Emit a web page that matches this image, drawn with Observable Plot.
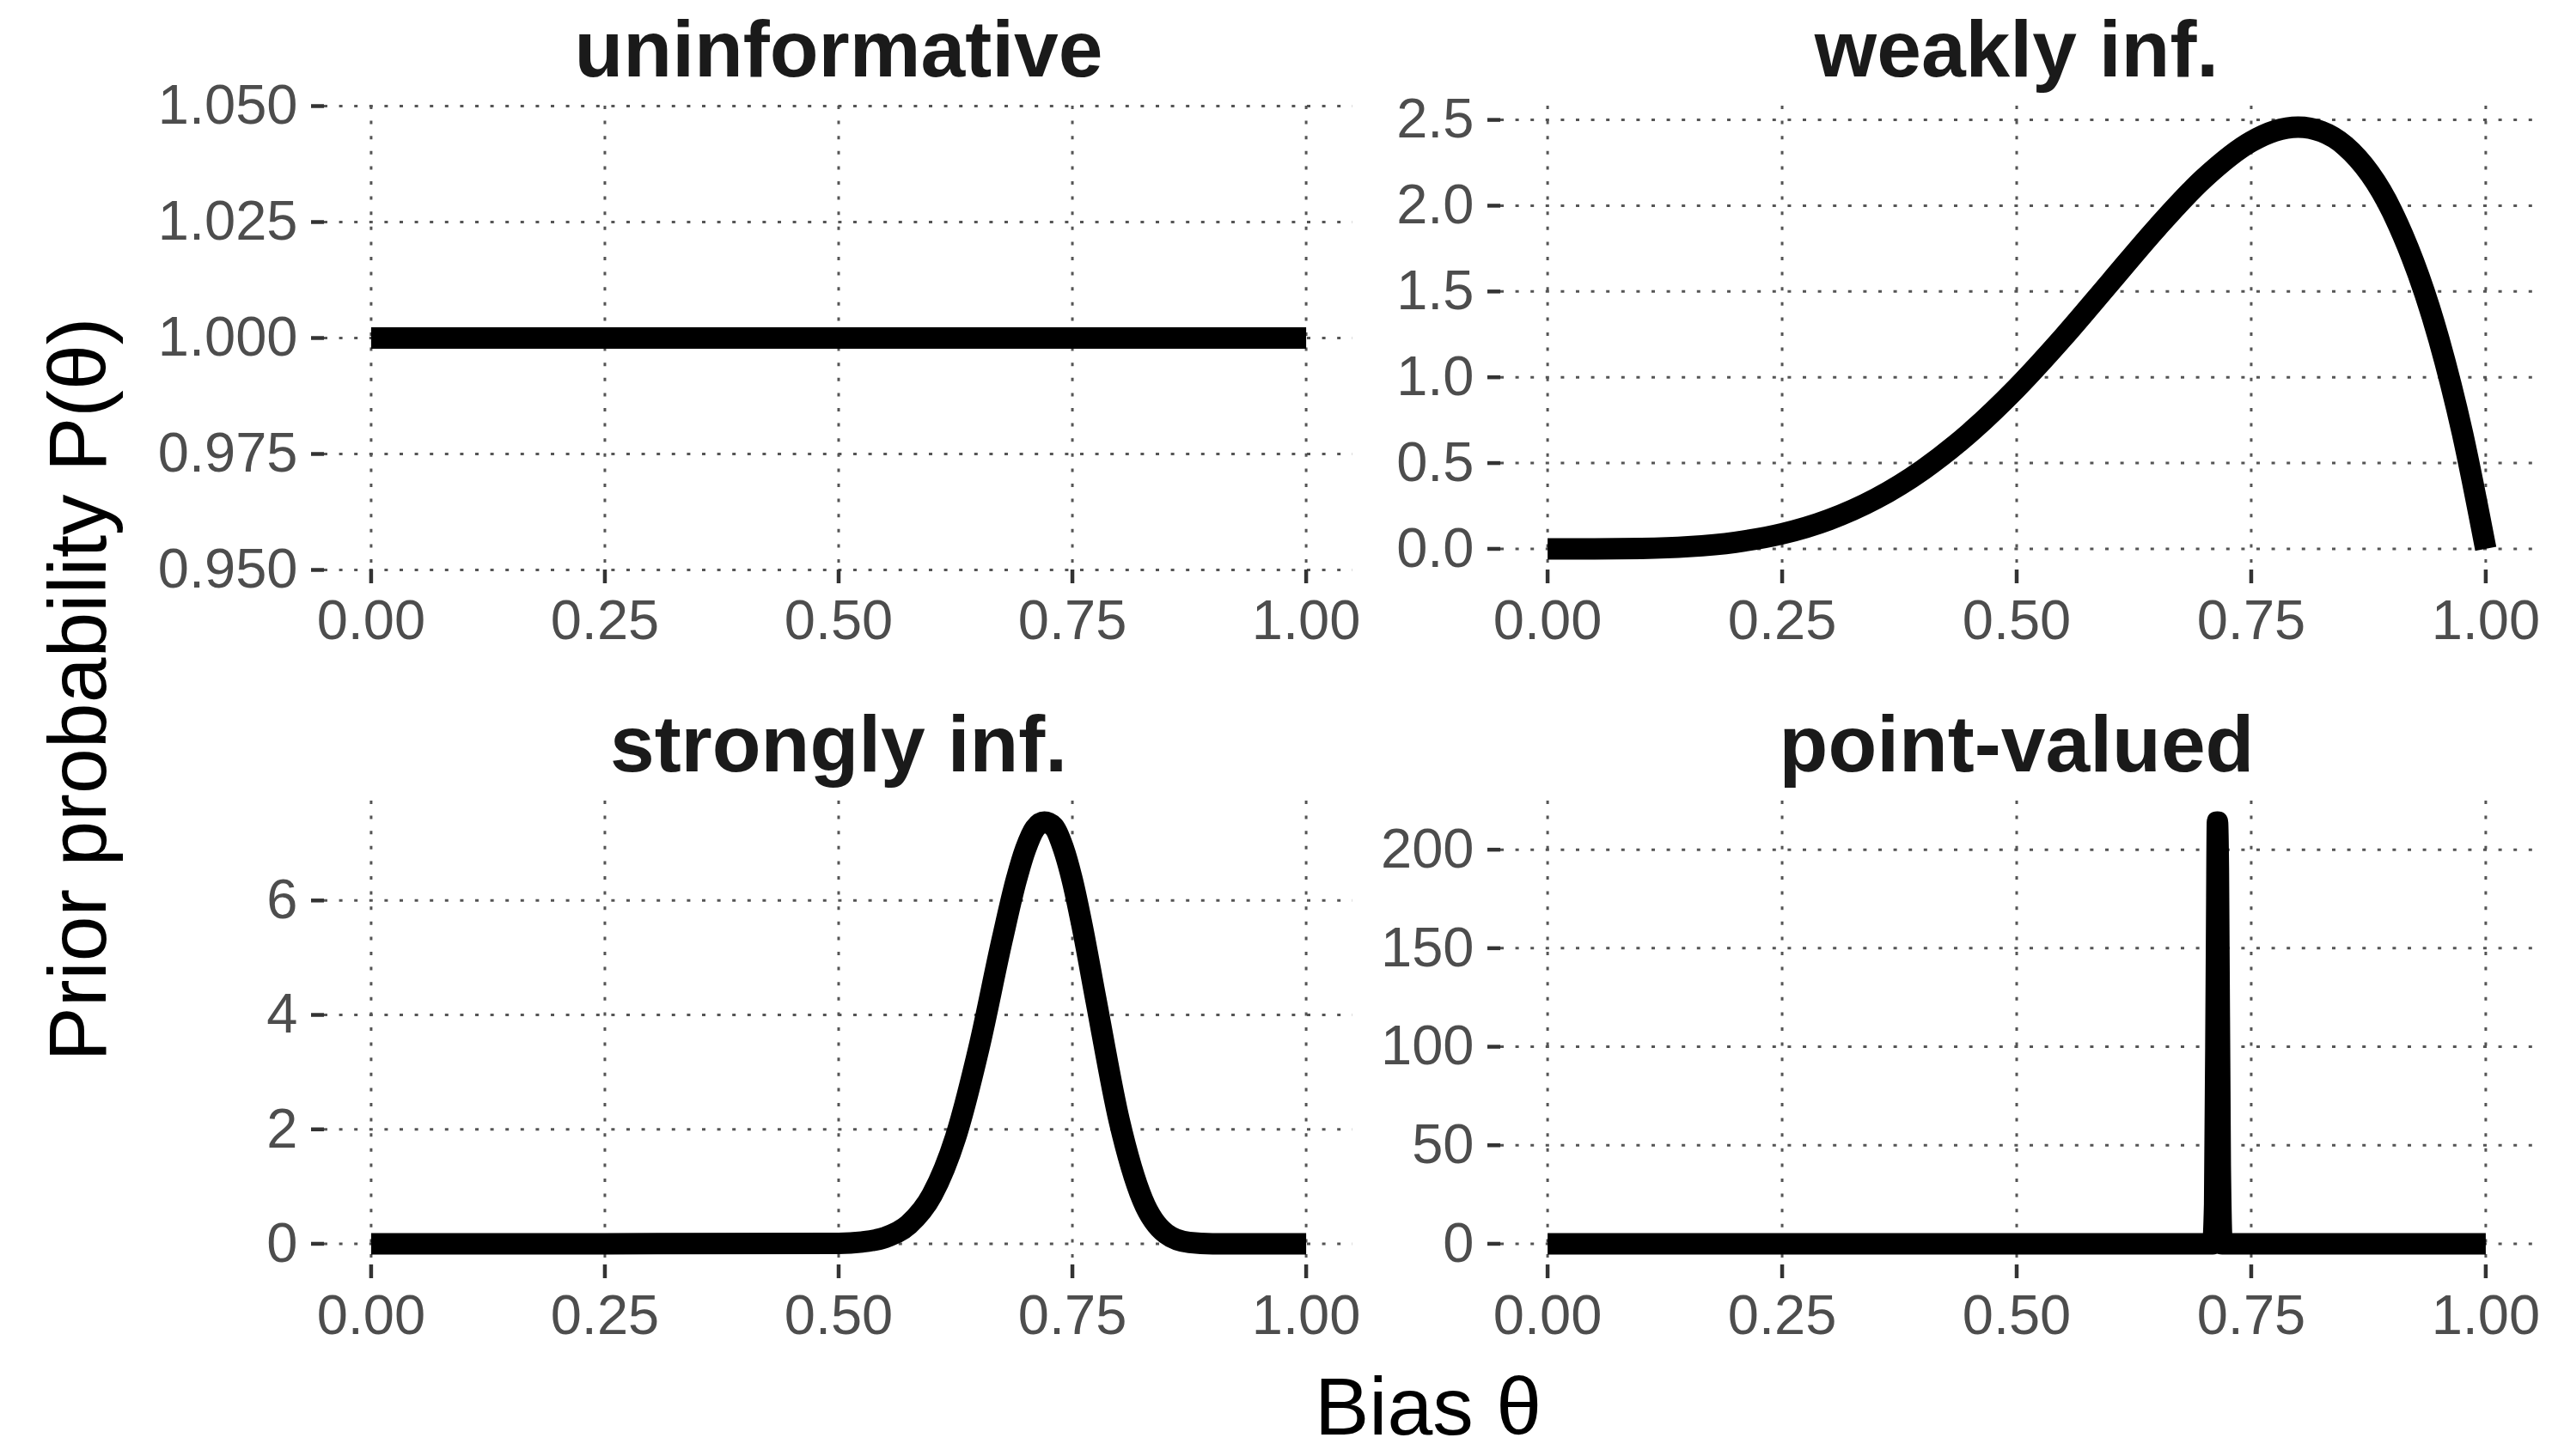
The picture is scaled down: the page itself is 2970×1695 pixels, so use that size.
<!DOCTYPE html>
<html>
<head>
<meta charset="utf-8">
<script src="https://cdn.jsdelivr.net/npm/d3@7"></script>
<script src="https://cdn.jsdelivr.net/npm/@observablehq/plot@0.6"></script>
<style>
  html, body { margin: 0; padding: 0; background: #ffffff; overflow: hidden; }
  #page { position: relative; width: 2970px; height: 1695px; background: #ffffff; font-family: "Liberation Sans", Arial, sans-serif; }
  .panel { position: absolute; }
  .panel svg { max-width: none !important; background: transparent !important; overflow: visible; }
  .axis-title { position: absolute; font-size: 95px; color: #000; text-align: center; white-space: nowrap; }
</style>
</head>
<body>
<div id="page"></div>
<script>
// ---------- data ----------
const xTicks = [0, 0.25, 0.5, 0.75, 1];
const panelTitles = ["uninformative", "weakly inf.", "strongly inf.", "point-valued"];
const xTitle = "Bias θ";
const yTitle = "Prior probability P(θ)";

const uninfTheta   = [0, 0.25, 0.5, 0.75, 1];
const uninfDensity = [1, 1, 1, 1, 1];
const uninfTicks   = [0.95, 0.975, 1, 1.025, 1.05];

const weakTheta   = [0, 0.05, 0.1, 0.15, 0.2, 0.25, 0.3, 0.35, 0.4, 0.45, 0.5, 0.55, 0.6, 0.65, 0.7, 0.75, 0.775, 0.8, 0.825, 0.85, 0.9, 0.95, 0.975, 1];
const weakDensity = [0, 0.0002, 0.0027, 0.0129, 0.0384, 0.0879, 0.1701, 0.2926, 0.4608, 0.6766, 0.9375, 1.2352, 1.5552, 1.8743, 2.1609, 2.373, 2.435, 2.4576, 2.432, 2.349, 1.968, 1.2218, 0.678, 0];
const weakTicks   = [0, 0.5, 1, 1.5, 2, 2.5];

const strongTheta   = [0, 0.25, 0.5, 0.525, 0.55, 0.575, 0.6, 0.625, 0.65, 0.675, 0.69, 0.7, 0.71, 0.72, 0.73, 0.74, 0.75, 0.76, 0.775, 0.8, 0.825, 0.85, 0.875, 0.9, 0.95, 1];
const strongDensity = [0, 0, 0.008, 0.032, 0.113, 0.337, 0.856, 1.857, 3.42, 5.32, 6.36, 6.90, 7.26, 7.37, 7.29, 6.93, 6.35, 5.59, 4.28, 2.16, 0.773, 0.178, 0.023, 0.001, 0, 0];
const strongTicks   = [0, 2, 4, 6];

const pointTheta   = [0, 0.25, 0.5, 0.709, 0.711, 0.713, 0.714, 0.715, 0.717, 0.719, 0.75, 1];
const pointDensity = [0, 0, 0, 0, 20, 150, 214, 190, 40, 0, 0, 0];
const pointTicks   = [0, 50, 100, 150, 200];

// ---------- layout ----------
const FRAME_H = 540;
const ROW_TOP = [123, 932];
const COL = [{left: 377, width: 1197}, {left: 1746, width: 1201}];
const M_LEFT = 300, M_TOP = 123, M_BOTTOM = 120;

function rows(theta, dens) { return theta.map((t, i) => ({theta: t, density: dens[i]})); }
function expanded(vals) {
  const lo = d3.min(vals), hi = d3.max(vals), pad = (hi - lo) * 0.05;
  return [lo - pad, hi + pad];
}

const panels = [
  {title: panelTitles[0], data: rows(uninfTheta, uninfDensity), ticks: uninfTicks, fmt: d3.format(".3f"), domain: [0.95, 1.05], row: 0, col: 0},
  {title: panelTitles[1], data: rows(weakTheta, weakDensity), ticks: weakTicks, fmt: d3.format(".1f"), domain: expanded(weakDensity), row: 0, col: 1},
  {title: panelTitles[2], data: rows(strongTheta, strongDensity), ticks: strongTicks, fmt: d3.format("d"), domain: expanded(strongDensity), row: 1, col: 0},
  {title: panelTitles[3], data: rows(pointTheta, pointDensity), ticks: pointTicks, fmt: d3.format("d"), domain: expanded(pointDensity), row: 1, col: 1}
];

const page = document.getElementById("page");
const gridStyle = {stroke: "#555", strokeOpacity: 1, strokeWidth: 3, strokeDasharray: "4,13.6"};

for (const p of panels) {
  const c = COL[p.col];
  const mRight = p.col === 0 ? 60 : 20;
  const width = M_LEFT + c.width + mRight;
  const height = M_TOP + FRAME_H + M_BOTTOM;
  const chart = Plot.plot({
    width, height,
    marginLeft: M_LEFT, marginRight: mRight, marginTop: M_TOP, marginBottom: M_BOTTOM,
    style: {fontFamily: "'Liberation Sans', Arial, sans-serif", background: "transparent", overflow: "visible"},
    x: {domain: [-0.05, 1.05]},
    y: {domain: p.domain},
    marks: [
      Plot.gridX(xTicks, gridStyle),
      Plot.gridY(p.ticks, gridStyle),
      Plot.line(p.data, {x: "theta", y: "density", stroke: "#000", strokeWidth: 25, curve: "monotone-x", strokeLinejoin: "round", strokeLinecap: "butt"}),
      Plot.axisX(xTicks, {tickSize: 16, tickPadding: 18, tickFormat: d3.format(".2f"), fontSize: 65, color: "#4d4d4d", stroke: "#333", strokeWidth: 4.5, label: null}),
      Plot.axisY(p.ticks, {tickSize: 15, tickPadding: 16, tickFormat: p.fmt, fontSize: 65, color: "#4d4d4d", stroke: "#333", strokeWidth: 4.5, label: null}),
      Plot.text([p.title], {frameAnchor: "top", dy: -35, lineAnchor: "bottom", text: d => d, fontSize: 93, fontWeight: "bold", fill: "#1a1a1a"})
    ]
  });
  const div = document.createElement("div");
  div.className = "panel";
  div.style.left = (c.left - M_LEFT) + "px";
  div.style.top = (ROW_TOP[p.row] - M_TOP) + "px";
  div.style.width = width + "px";
  div.style.height = height + "px";
  div.appendChild(chart);
  page.appendChild(div);
}

// global axis titles
const xt = document.createElement("div");
xt.className = "axis-title";
xt.textContent = xTitle;
xt.style.width = "1000px";
xt.style.lineHeight = "80px";
xt.style.height = "80px";
xt.style.left = (1662 - 500) + "px";
xt.style.top = (1670 - 73) + "px";
page.appendChild(xt);

const yt = document.createElement("div");
yt.className = "axis-title";
yt.textContent = yTitle;
yt.style.width = "1400px";
yt.style.lineHeight = "95px";
yt.style.height = "95px";
yt.style.left = (90 - 700) + "px";
yt.style.top = (802 - 47.5) + "px";
yt.style.transform = "rotate(-90deg)";
yt.style.transformOrigin = "50% 50%";
page.appendChild(yt);
</script>
</body>
</html>
